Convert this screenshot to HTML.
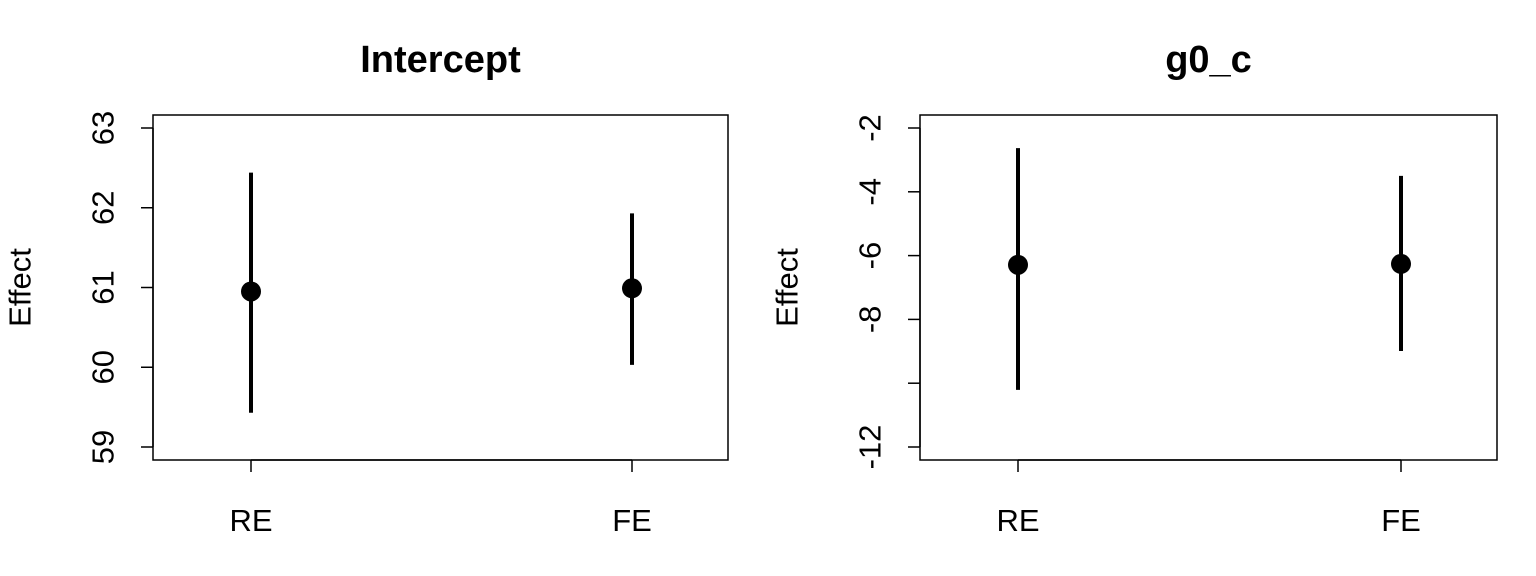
<!DOCTYPE html>
<html><head><meta charset="utf-8"><style>
html,body{margin:0;padding:0;background:#fff;}
svg{display:block;font-family:"Liberation Sans",Arial,sans-serif;}
</style></head><body>
<svg id="c" width="1536" height="576" viewBox="0 0 1536 576"></svg>
<script>
const categories = ["RE","FE"];
const interceptEst = [60.95, 60.99];
const interceptLo = [59.43, 60.03];
const interceptHi = [62.44, 61.93];
const interceptTicks = [59,60,61,62,63];
const g0Est = [-6.29, -6.26];
const g0Lo = [-10.21, -8.99];
const g0Hi = [-2.63, -3.5];
const g0Ticks = [-12,-10,-8,-6,-4,-2];
const g0TickLabels = ["-12","","-8","-6","-4","-2"];

const NS="http://www.w3.org/2000/svg";
const svg=document.getElementById('c');
function mk(tag,attrs,parent){const e=document.createElementNS(NS,tag);for(const k in attrs)e.setAttribute(k,attrs[k]);(parent||svg).appendChild(e);return e;}

function panel(name,title,box,ymin,ymax,ticks,tickLabels,est,lo,hi){
  const g=mk('g',{});
  
  
  const [x0,x1,y0,y1]=box;
  const ty0=y0+13, ty1=y1-13;
  const y=v=>ty1-(v-ymin)/(ymax-ymin)*(ty1-ty0);
  const xs=[x0+98,x1-96];
  const x=i=>xs[i];
  const r=mk('rect',{x:x0,y:y0,width:x1-x0,height:y1-y0,fill:'none',stroke:'#000','stroke-width':1.5},g);
  
  
  const t=mk('text',{x:(x0+x1)/2,y:72,'text-anchor':'middle','font-size':'38px','font-weight':'bold'},g);
  t.textContent=title;
  
  
  mk('line',{x1:x0,x2:x0,y1:y(ticks[0]),y2:y(ticks[ticks.length-1]),stroke:'#000','stroke-width':1.5},g);
  ticks.forEach((v,i)=>{
    const tk=mk('line',{x1:x0,x2:x0-12,y1:y(v),y2:y(v),stroke:'#000','stroke-width':1.5},g);
    
    
    if(tickLabels[i]){
      const tl=mk('text',{x:0,y:0,'text-anchor':'middle','font-size':'31px',transform:`translate(${x0-50},${y(v)}) rotate(-90)`,'dominant-baseline':'central'},g);
      tl.textContent=tickLabels[i];
      
      
    }
  });
  const yl=mk('text',{x:0,y:0,'text-anchor':'middle','font-size':'31px',transform:`translate(${x0-133},${(y0+y1)/2}) rotate(-90)`,'dominant-baseline':'central'},g);
  yl.textContent='Effect';
  
  
  mk('line',{x1:xs[0],x2:xs[1],y1:y1,y2:y1,stroke:'#000','stroke-width':1.5},g);
  categories.forEach((c,i)=>{
    mk('line',{x1:x(i),x2:x(i),y1:y1,y2:y1+12,stroke:'#000','stroke-width':1.5},g);
    const xl=mk('text',{x:x(i),y:531,'text-anchor':'middle','font-size':'31px'},g);
    xl.textContent=c;
    
    
    const ln=mk('line',{x1:x(i),x2:x(i),y1:y(lo[i]),y2:y(hi[i]),stroke:'#000','stroke-width':4},g);
    
    
    const pt=mk('circle',{cx:x(i),cy:y(est[i]),r:10,fill:'#000'},g);
    
    
  });
}
panel('intercept','Intercept',[153,728,115,460],59,63,interceptTicks,interceptTicks.map(String),interceptEst,interceptLo,interceptHi);
panel('g0c','g0_c',[920,1497,115,460],-12,-2,g0Ticks,g0TickLabels,g0Est,g0Lo,g0Hi);
</script>
</body></html>
